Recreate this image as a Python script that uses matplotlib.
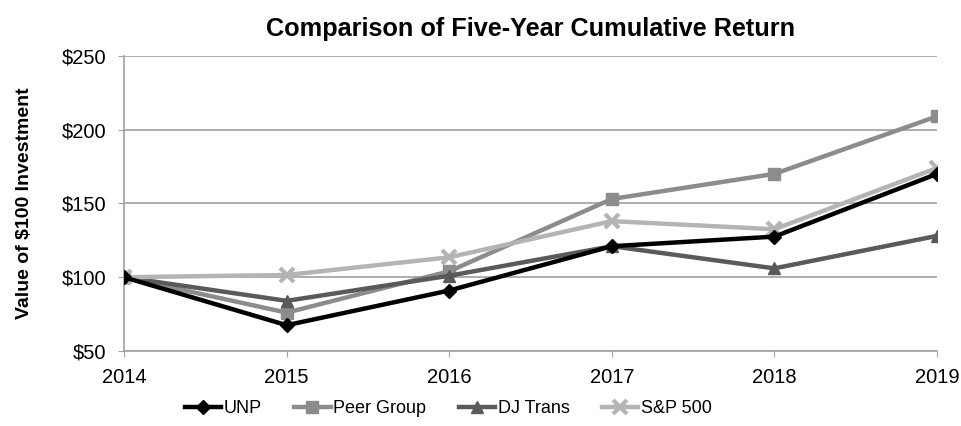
import matplotlib
matplotlib.use("Agg")
import matplotlib.pyplot as plt

years = [2014, 2015, 2016, 2017, 2018, 2019]
unp = [100, 67.5, 91, 121, 127.5, 170]
peer = [100, 76, 104, 153, 170, 209]
djtrans = [100, 84, 101, 121, 106, 128]
sp500 = [100, 101.5, 113.5, 138, 132.5, 174]
yticks = [50, 100, 150, 200, 250]

plt.rcParams['font.family'] = ['Liberation Sans', 'DejaVu Sans']

fig = plt.figure(figsize=(9.62, 4.26), dpi=100)
ax = fig.add_axes([0.129, 0.176, 0.845, 0.693])

grid_c = '#a0a0a0'
lw = 3.2
ax.plot(years, peer, color='#8c8c8c', lw=lw, marker='s', ms=8, label='Peer Group', zorder=3)
ax.plot(years, djtrans, color='#5a5a5a', lw=lw, marker='^', ms=9, label='DJ Trans', zorder=3)
ax.plot(years, sp500, color='#b4b4b4', lw=lw, marker='x', ms=10, mew=3, label='S&P 500', zorder=3)
ax.plot(years, unp, color='#000000', lw=lw, marker='D', ms=7, label='UNP', zorder=4)

ax.set_xlim(2014, 2019)
ax.set_ylim(50, 250)
ax.set_yticks(yticks)
ax.set_yticklabels([f'${v}' for v in yticks])
ax.set_xticks(years)
ax.set_xticklabels([str(y) for y in years])
ax.yaxis.grid(True, color=grid_c, lw=1.2)
ax.set_axisbelow(True)
for s in ['top', 'right']:
    ax.spines[s].set_visible(False)
for s in ['left', 'bottom']:
    ax.spines[s].set_color(grid_c)
    ax.spines[s].set_linewidth(1.2)
ax.tick_params(axis='y', length=4, color=grid_c, labelsize=14.5, pad=9)
ax.tick_params(axis='x', length=4, color=grid_c, labelsize=14.5, pad=8)

ax.set_title('Comparison of Five-Year Cumulative Return', fontsize=18.2, fontweight='bold', pad=14)
ax.set_ylabel('Value of $100 Investment', fontsize=14, fontweight='bold')
ax.yaxis.set_label_coords(-0.112, 0.5)

handles, labels = ax.get_legend_handles_labels()
order = [3, 0, 1, 2]
fig.legend([handles[i] for i in order], [labels[i] for i in order], loc='center',
           bbox_to_anchor=(0.466, 0.04), ncol=4, frameon=False, fontsize=13,
           handlelength=2.0, columnspacing=1.8, handletextpad=0.15)

fig.savefig('out.png', dpi=100)
